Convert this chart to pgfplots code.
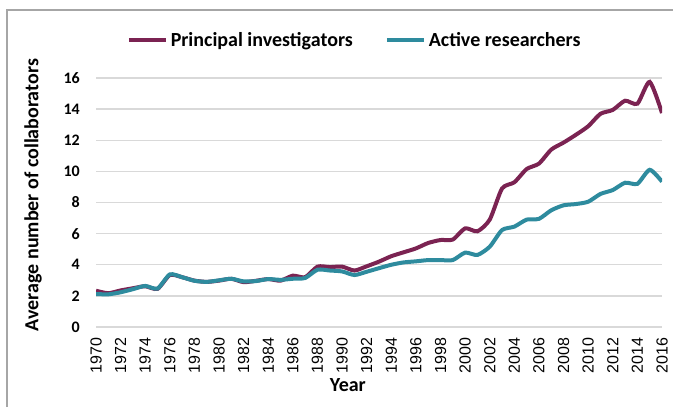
\documentclass[border=0pt]{standalone}
\usepackage{pgfplots}
\pgfplotsset{compat=1.18}
\usepackage{pgfplotstable}
\usepackage{fontspec}
\setmainfont{Carlito}
\newfontfamily\arialfont{Liberation Sans}
\definecolor{pi}{HTML}{7B2352}
\definecolor{ar}{HTML}{2E8B9E}
\definecolor{gridc}{HTML}{D9D9D9}
\definecolor{framec}{HTML}{A6A6A6}
\pgfplotstableread{
Year PI AR
1970 2.33 2.12
1971 2.17 2.10
1972 2.35 2.23
1973 2.49 2.43
1974 2.62 2.64
1975 2.45 2.47
1976 3.34 3.38
1977 3.20 3.20
1978 2.98 2.97
1979 2.90 2.90
1980 2.98 3.00
1981 3.10 3.10
1982 2.88 2.93
1983 2.97 2.95
1984 3.08 3.08
1985 2.98 3.03
1986 3.30 3.10
1987 3.20 3.15
1988 3.88 3.68
1989 3.85 3.63
1990 3.88 3.57
1991 3.63 3.34
1992 3.90 3.55
1993 4.20 3.78
1994 4.55 4.00
1995 4.80 4.15
1996 5.05 4.22
1997 5.40 4.30
1998 5.59 4.30
1999 5.62 4.30
2000 6.34 4.78
2001 6.15 4.63
2002 6.90 5.16
2003 8.90 6.23
2004 9.30 6.45
2005 10.15 6.90
2006 10.50 6.95
2007 11.40 7.50
2008 11.85 7.82
2009 12.35 7.90
2010 12.90 8.05
2011 13.70 8.55
2012 13.95 8.80
2013 14.54 9.27
2014 14.35 9.20
2015 15.75 10.10
2016 13.75 9.34
}\datatable
\begin{document}
\begin{tikzpicture}
\useasboundingbox (0,0) rectangle (504.75pt,305.25pt);
\draw[framec, line width=1.1pt] (5.25pt,0) -- (5.25pt,297.75pt) -- (504.75pt,297.75pt);
\begin{axis}[
  at={(72pt,60pt)}, anchor=south west,
  scale only axis, width=424.5pt, height=186.75pt,
  xmin=1970, xmax=2016, ymin=0, ymax=16,
  xtick={1970,1972,...,2016},
  ytick={0,2,...,16},
  axis line style={draw=none},
  major tick length=0pt,
  ymajorgrids,
  grid style={gridc, line width=1pt},
  x tick label style={/pgf/number format/1000 sep={}, rotate=90, anchor=east, inner sep=0pt, font=\arialfont\fontsize{12}{12}\selectfont},
  xticklabel shift=8pt,
  y tick label style={anchor=east, inner sep=0pt, font=\bfseries\fontsize{12}{12}\selectfont},
  yticklabel shift=12pt,
  /pgf/number format/assume math mode=true,
  xlabel={Year},
  xlabel style={font=\bfseries\fontsize{15}{15}\selectfont, at={(axis description cs:0.445,-0.233)}, anchor=center},
  ylabel={Average number of collaborators},
  ylabel style={font=\bfseries\fontsize{15}{15}\selectfont, at={(axis description cs:-0.1113,0.53)}, anchor=center},
  legend columns=2,
  legend style={draw=none, fill=none, at={(axis description cs:0.4576,1.1526)}, anchor=center,
    font=\bfseries\fontsize{15}{15}\selectfont,
    /tikz/every even column/.append style={column sep=22pt}},
  legend image code/.code={\draw[#1, line width=3pt] (0pt,0pt) -- (28pt,0pt);},
]
\addplot[pi, line width=3pt, smooth, tension=0.4] table[x=Year, y=PI] {\datatable};
\addlegendentry{Principal investigators}
\addplot[ar, line width=3pt, smooth, tension=0.4] table[x=Year, y=AR] {\datatable};
\addlegendentry{Active researchers}
\end{axis}
\end{tikzpicture}
\end{document}
